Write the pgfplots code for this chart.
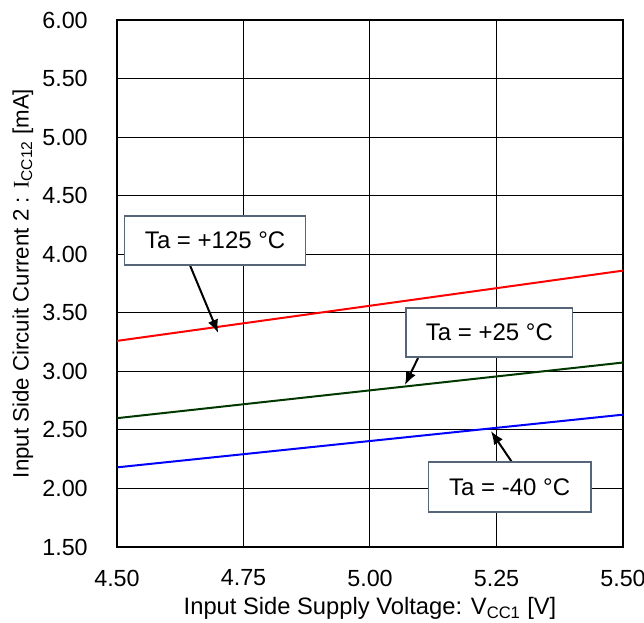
\documentclass[border=0pt]{standalone}
\usepackage{fontspec}
\setmainfont{Liberation Sans}
\newfontfamily\serifI{Liberation Serif}
\usepackage{pgfplots}
\usetikzlibrary{arrows.meta}
\pgfplotsset{compat=1.18}
\definecolor{dgreen}{RGB}{0,56,0}
\definecolor{boxedge}{RGB}{86,102,120}
\begin{document}
\begin{tikzpicture}
\begin{axis}[
  scale only axis,
  width=379.5pt, height=395.25pt,
  xmin=4.5, xmax=5.5, ymin=1.5, ymax=6.0,
  xtick={4.5,4.75,5,5.25,5.5},
  ytick={1.5,2,2.5,3,3.5,4,4.5,5,5.5,6},
  xticklabels={4.50,4.75,5.00,5.25,5.50},
  yticklabels={1.50,2.00,2.50,3.00,3.50,4.00,4.50,5.00,5.50,6.00},
  major tick length=0pt,
  grid=major,
  major grid style={black, line width=0.75pt},
  axis line style={black, line width=1.5pt},
  tick label style={font=\fontsize{17.5}{20}\selectfont, inner sep=0pt},
  xticklabel style={anchor=center, yshift=-23.25pt},
  yticklabel style={anchor=east, xshift=-21.75pt},
  xlabel={Input Side Supply Voltage: V\textsubscript{CC1} [V]},
  ylabel={Input Side Circuit Current 2 : {\serifI I}\textsubscript{CC12} [mA]},
  xlabel style={at={(axis description cs:0.5,-0.1164)}, anchor=center, font=\fontsize{17.8}{20}\selectfont},
  ylabel style={at={(axis description cs:-0.1858,0.5)}, anchor=center, font=\fontsize{16.7}{20}\selectfont},
  clip=false,
]
\addplot[red, line width=1.5pt] coordinates {(4.5,3.26) (5.5,3.86)};
\addplot[dgreen, line width=1.5pt] coordinates {(4.5,2.60) (5.5,3.075)};
\addplot[blue, line width=1.5pt] coordinates {(4.5,2.18) (5.5,2.63)};

\draw[-{Latex[length=10pt,width=8pt]}, line width=1.5pt, black] (axis cs:4.644,3.908) -- (axis cs:4.700,3.327);
\draw[-{Latex[length=10pt,width=8pt]}, line width=1.5pt, black] (axis cs:5.095,3.114) -- (axis cs:5.069,2.883);
\draw[-{Latex[length=10pt,width=8pt]}, line width=1.5pt, black] (axis cs:5.287,2.183) -- (axis cs:5.239,2.490);

\node[draw=boxedge, line width=1.1pt, fill=white, minimum width=135.75pt, minimum height=36.75pt, inner sep=0pt, font=\fontsize{18}{21}\selectfont] at (axis cs:4.694,4.117) {Ta = +125 °C};
\node[draw=boxedge, line width=1.1pt, fill=white, minimum width=125pt, minimum height=36.75pt, inner sep=0pt, font=\fontsize{18}{21}\selectfont] at (axis cs:5.236,3.33) {Ta = +25 °C};
\node[draw=boxedge, line width=1.1pt, fill=white, minimum width=122pt, minimum height=37.5pt, inner sep=0pt, font=\fontsize{18}{21}\selectfont] at (axis cs:5.276,2.013) {Ta = -40 °C};
\end{axis}
\pgfresetboundingbox
\useasboundingbox (current axis.south west) ++(-87.75pt,-57pt) rectangle ([shift={(15.75pt,15pt)}]current axis.north east);
\end{tikzpicture}
\end{document}
